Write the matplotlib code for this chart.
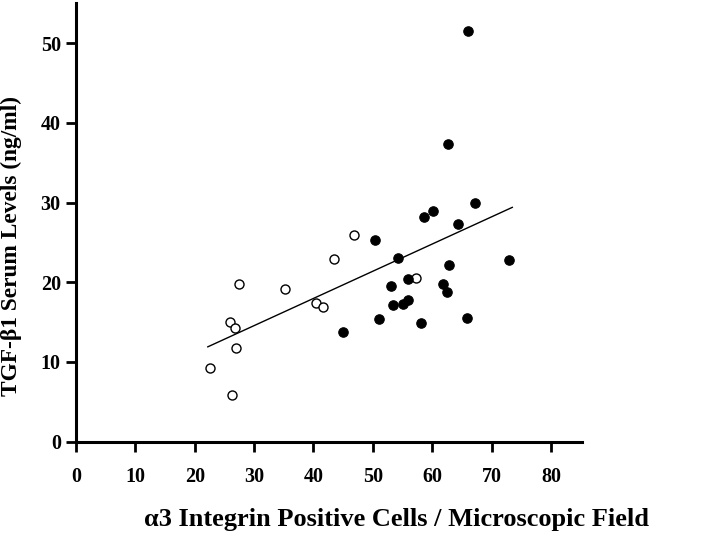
import matplotlib
matplotlib.use("Agg")
import matplotlib.pyplot as plt

# Open circles
open_x = [22.5, 26.3, 26.0, 26.8, 27.0, 27.5, 35.2, 40.4, 41.6, 43.5, 46.9, 57.3]
open_y = [9.3, 5.9, 15.0, 14.3, 11.8, 19.8, 19.2, 17.4, 16.9, 22.9, 25.9, 20.5]

# Filled circles
filled_x = [45.0, 50.4, 51.0, 53.1, 53.4, 54.3, 55.1, 55.9, 55.9, 58.1, 58.7, 60.2,
            61.9, 62.5, 62.7, 62.8, 64.4, 65.9, 66.1, 67.2, 73.0]
filled_y = [13.8, 25.3, 15.4, 19.5, 17.2, 23.1, 17.3, 17.8, 20.4, 14.9, 28.2, 29.0,
            19.8, 18.8, 37.4, 22.2, 27.3, 15.5, 51.5, 30.0, 22.8]

# Regression line end points
line_x = [22.2, 73.5]
line_y = [11.9, 29.4]

x_ticks = [0, 10, 20, 30, 40, 50, 60, 70, 80]
y_ticks = [0, 10, 20, 30, 40, 50]

plt.rcParams['font.family'] = ['Liberation Serif', 'DejaVu Serif']

fig = plt.figure(figsize=(7.2, 5.34), dpi=100)
ax = fig.add_axes([0.1056, 0.1729, 0.7024, 0.8209])

ax.plot(line_x, line_y, color='black', lw=1.0, zorder=2)
ax.plot(open_x, open_y, 'o', ms=6.5, mfc='white', mec='black', mew=1.0, ls='none', zorder=3)
ax.plot(filled_x, filled_y, 'o', ms=6.8, mfc='black', mec='black', mew=0.8, ls='none', zorder=3)

ax.set_xlim(0, 85.2)
ax.set_ylim(0, 55)
ax.set_xticks(x_ticks)
ax.set_yticks(y_ticks)
ax.spines['top'].set_visible(False)
ax.spines['right'].set_visible(False)
for s in ('left', 'bottom'):
    ax.spines[s].set_linewidth(2.2)
ax.tick_params(axis='both', direction='out', length=7, width=2, labelsize=14.5)
ax.tick_params(axis='x', pad=11)
ax.tick_params(axis='y', pad=4)
for lab in ax.get_xticklabels() + ax.get_yticklabels():
    lab.set_fontweight('bold')

ax.set_xlabel('\u03b13 Integrin Positive Cells / Microscopic Field', fontsize=19,
              fontweight='bold')
ax.xaxis.set_label_coords(0.634, -0.152)
ax.set_ylabel('TGF-\u03b21 Serum Levels (ng/ml)', fontsize=16.8, fontweight='bold')
ax.yaxis.set_label_coords(-0.106, 0.446)

fig.savefig('out.png', dpi=100)
